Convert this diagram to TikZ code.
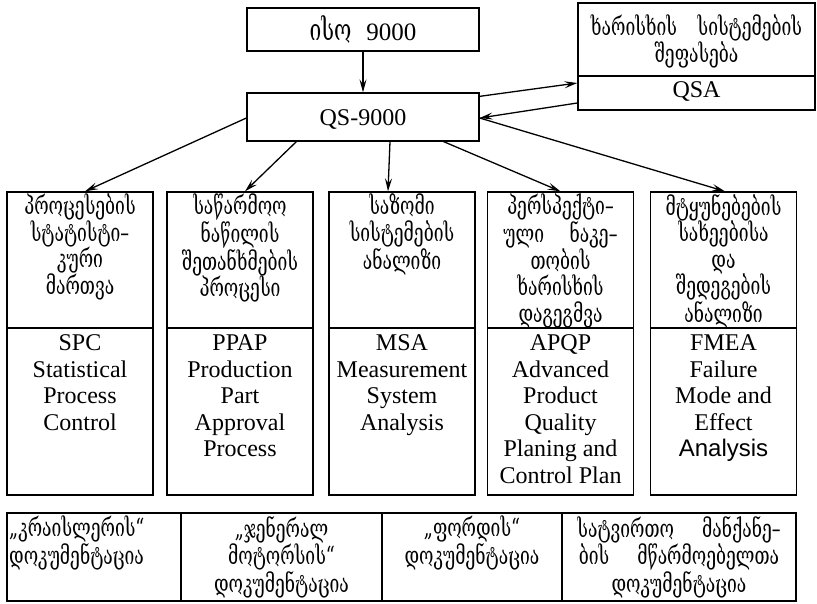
\documentclass[tikz,border=0pt]{standalone}
\usepackage{fontspec}
\setmainfont{Liberation Serif}
\newfontfamily\geo[FakeStretch=0.7]{DejaVu Serif}
\newfontfamily\arial{Liberation Sans}
\usetikzlibrary{arrows.meta}
\begin{document}
\begin{tikzpicture}[x=1pt,y=-1pt,
  box/.style={draw,line width=1.3pt,rectangle,inner sep=0pt},
  lbl/.style={inner sep=0pt,align=center,anchor=north},
  en/.style={font=\fontsize{24}{26.5}\selectfont},
  ka/.style={font=\geo\fontsize{25}{26.5}\selectfont},
  kab/.style={font=\geo\fontsize{25}{23.5}\selectfont},
  arr/.style={line width=1.3pt,-{Stealth[length=13pt,width=7pt,inset=5pt]}}]
\useasboundingbox (0,0) rectangle (817,604);

% top level
\node[box,minimum width=232pt,minimum height=43pt] (iso) at (363,29.5) {};
\node[inner sep=0pt,font=\fontsize{25}{26}\selectfont] (isotxt) at (363,30) {{\geo\fontsize{30}{30}\selectfont ისო}\hspace{0.6em}9000};
\node[box,minimum width=232pt,minimum height=48pt] (qs) at (363,117) {};
\node[inner sep=0pt,en] (qstxt) at (363,119) {QS-9000};

% assessment box
\node[box,minimum width=237pt,minimum height=107pt] (qsa) at (696.5,56.5) {};
\draw[line width=1.3pt] (qsa.west |- 0,76) -- (qsa.east |- 0,76);
\node[lbl,ka] (qsaka) at (696.5,15) {ხარისხის\hspace{0.6em} სისტემების\\შეფასება};
\node[lbl,en] (qsaen) at (696.5,81) {QSA};

% five method boxes
\foreach \n/\cx in {b1/80,b2/240,b3/402,b4/560.5,b5/723.5}{
  \node[box,minimum width=146pt,minimum height=303pt] (\n) at (\cx,343.5) {};
  \draw[line width=1.3pt] (\n.west |- 0,328) -- (\n.east |- 0,328);
}
\node[lbl,ka] (b1ka) at (80,194) {პროცესების\\სტატისტი–\\კური\\მართვა};
\node[lbl,ka] (b2ka) at (240,194) {საწარმოო\\ნაწილის\\შეთანხმების\\პროცესი};
\node[lbl,ka] (b3ka) at (402,194) {საზომი\\სისტემების\\ანალიზი};
\node[lbl,ka] (b4ka) at (560.5,194) {პერსპექტი–\\ული\hspace{0.8em} ნაკე–\\თობის\\ხარისხის\\დაგეგმვა};
\node[lbl,ka] (b5ka) at (723.5,194) {მტყუნებების\\სახეებისა\\და\\შედეგების\\ანალიზი};

\node[lbl,en] (b1en) at (80,334.5) {SPC\\Statistical\\Process\\Control};
\node[lbl,en] (b2en) at (240,334.5) {PPAP\\Production\\Part\\Approval\\Process};
\node[lbl,en] (b3en) at (402,334.5) {MSA\\Measurement\\System\\Analysis};
\node[lbl,en] (b4en) at (560.5,334.5) {APQP\\Advanced\\Product\\Quality\\Planing and\\Control Plan};
\node[lbl,en] (b5en) at (723.5,334.5) {FMEA\\Failure\\Mode and\\Effect\\{\arial Analysis}};

% documentation row
\node[box,minimum width=174pt,minimum height=88pt] (d1) at (94,557) {};
\node[box,minimum width=201pt,minimum height=88pt] (d2) at (281.5,557) {};
\node[box,minimum width=180pt,minimum height=88pt] (d3) at (472,557) {};
\node[box,minimum width=234pt,minimum height=88pt] (d4) at (679,557) {};
\node[inner sep=0pt,align=left,anchor=north west,kab] (d1t) at (9,516) {„კრაისლერის“\\დოკუმენტაცია};
\node[lbl,kab] (d2t) at (281.5,516) {„ჯენერალ\\მოტორსის“\\დოკუმენტაცია};
\node[lbl,kab] (d3t) at (472,516) {„ფორდის“\\დოკუმენტაცია};
\node[lbl,kab] (d4t) at (679,516) {სატვირთო\hspace{0.9em} მანქანე–\\ბის\hspace{0.9em} მწარმოებელთა\\დოკუმენტაცია};

% connectors
\draw[arr] (iso.south) -- (qs.north);
\draw[arr] ([yshift=-4pt]qs.north east) -- ([yshift=-26.5pt]qsa.west);
\draw[arr] ([yshift=-46.5pt]qsa.west) -- ([yshift=-1pt]qs.east);
\draw[arr] ([yshift=-1pt]qs.west) -- ([xshift=5pt]b1.north);
\draw[arr] ([xshift=50pt]qs.south west) -- ([xshift=5pt]b2.north);
\draw[arr] ([xshift=27pt]qs.south) -- ([xshift=-14pt]b3.north);
\draw[arr] ([xshift=-36pt]qs.south east) -- (b4.north);
\draw[arr] ([yshift=-1pt]qs.east) -- ([xshift=1.5pt]b5.north);
\end{tikzpicture}
\end{document}
